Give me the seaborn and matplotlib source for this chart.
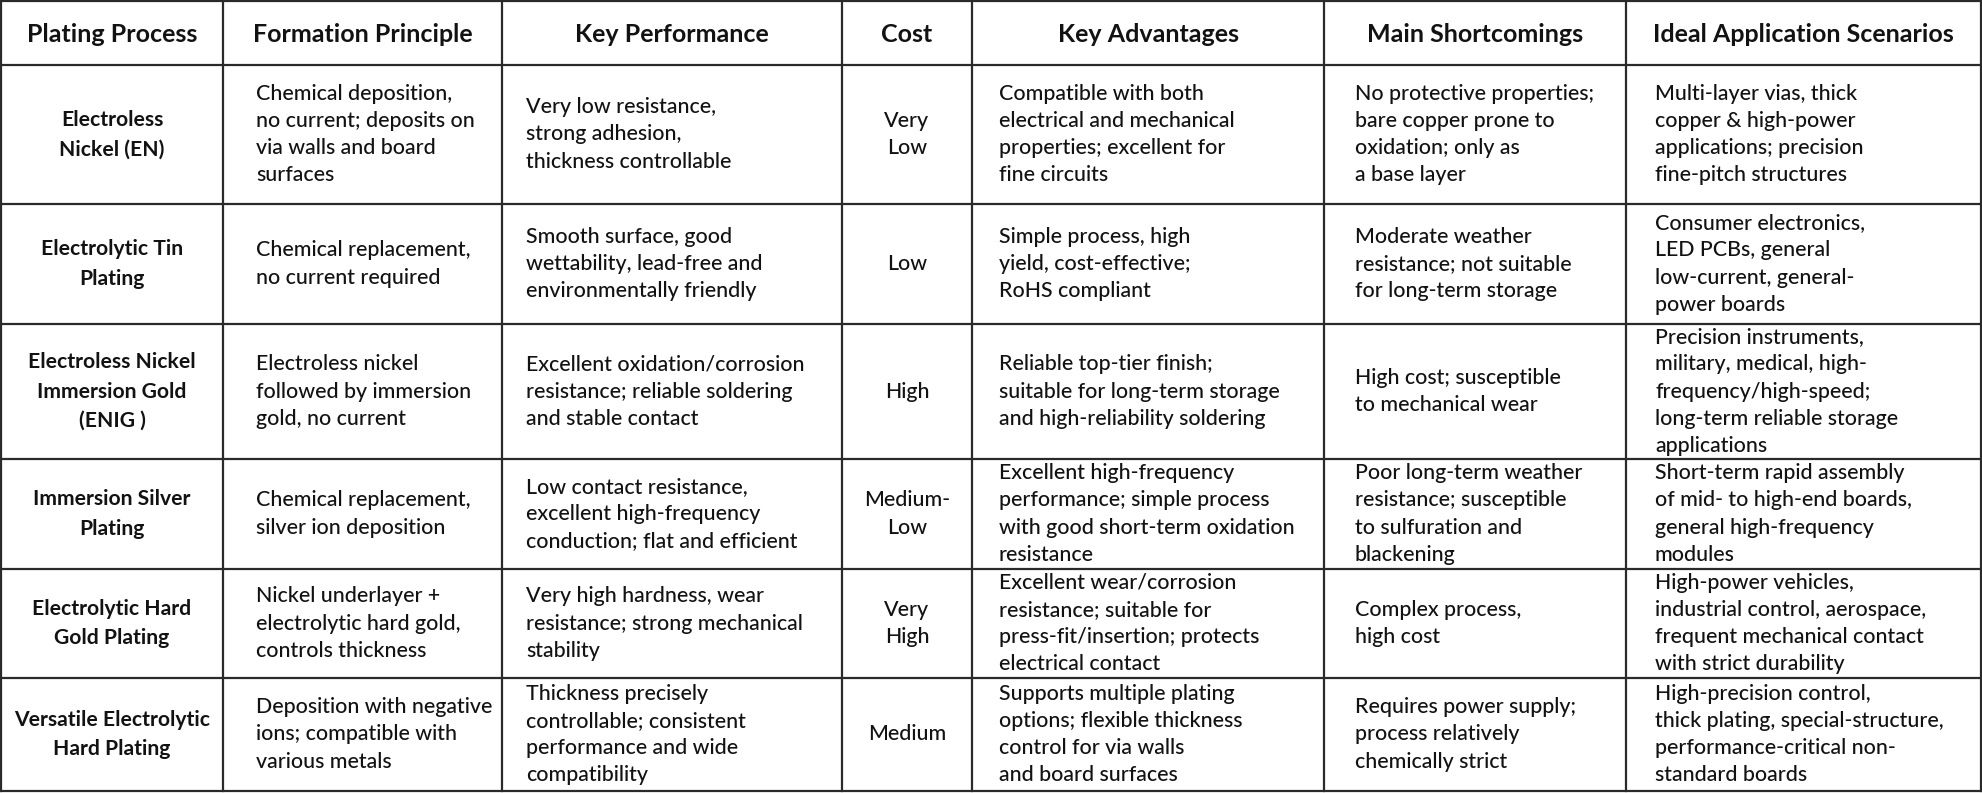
import matplotlib
matplotlib.use("Agg")
import matplotlib.pyplot as plt
import seaborn as sns

# ---------------- data ----------------
headers = ["Plating Process", "Formation Principle", "Key Performance", "Cost",
           "Key Advantages", "Main Shortcomings", "Ideal Application Scenarios"]

processes = [
    "Electroless\nNickel (EN)",
    "Electrolytic Tin\nPlating",
    "Electroless Nickel\nImmersion Gold\n(ENIG )",
    "Immersion Silver\nPlating",
    "Electrolytic Hard\nGold Plating",
    "Versatile Electrolytic\nHard Plating",
]
principles = [
    "Chemical deposition,\nno current; deposits on\nvia walls and board\nsurfaces",
    "Chemical replacement,\nno current required",
    "Electroless nickel\nfollowed by immersion\ngold, no current",
    "Chemical replacement,\nsilver ion deposition",
    "Nickel underlayer +\nelectrolytic hard gold,\ncontrols thickness",
    "Deposition with negative\nions; compatible with\nvarious metals",
]
performance = [
    "Very low resistance,\nstrong adhesion,\nthickness controllable",
    "Smooth surface, good\nwettability, lead-free and\nenvironmentally friendly",
    "Excellent oxidation/corrosion\nresistance; reliable soldering\nand stable contact",
    "Low contact resistance,\nexcellent high-frequency\nconduction; flat and efficient",
    "Very high hardness, wear\nresistance; strong mechanical\nstability",
    "Thickness precisely\ncontrollable; consistent\nperformance and wide\ncompatibility",
]
costs = ["Very\nLow", "Low", "High", "Medium-\nLow", "Very\nHigh", "Medium"]
advantages = [
    "Compatible with both\nelectrical and mechanical\nproperties; excellent for\nfine circuits",
    "Simple process, high\nyield, cost-effective;\nRoHS compliant",
    "Reliable top-tier finish;\nsuitable for long-term storage\nand high-reliability soldering",
    "Excellent high-frequency\nperformance; simple process\nwith good short-term oxidation\nresistance",
    "Excellent wear/corrosion\nresistance; suitable for\npress-fit/insertion; protects\nelectrical contact",
    "Supports multiple plating\noptions; flexible thickness\ncontrol for via walls\nand board surfaces",
]
shortcomings = [
    "No protective properties;\nbare copper prone to\noxidation; only as\na base layer",
    "Moderate weather\nresistance; not suitable\nfor long-term storage",
    "High cost; susceptible\nto mechanical wear",
    "Poor long-term weather\nresistance; susceptible\nto sulfuration and\nblackening",
    "Complex process,\nhigh cost",
    "Requires power supply;\nprocess relatively\nchemically strict",
]
applications = [
    "Multi-layer vias, thick\ncopper & high-power\napplications; precision\nfine-pitch structures",
    "Consumer electronics,\nLED PCBs, general\nlow-current, general-\npower boards",
    "Precision instruments,\nmilitary, medical, high-\nfrequency/high-speed;\nlong-term reliable storage\napplications",
    "Short-term rapid assembly\nof mid- to high-end boards,\ngeneral high-frequency\nmodules",
    "High-power vehicles,\nindustrial control, aerospace,\nfrequent mechanical contact\nwith strict durability",
    "High-precision control,\nthick plating, special-structure,\nperformance-critical non-\nstandard boards",
]

columns = [processes, principles, performance, costs, advantages, shortcomings, applications]

# ---------------- layout ----------------
col_edges = [1, 223, 502, 842, 972, 1324, 1626, 1981]
row_edges = [1, 65, 204, 324, 459, 569, 678, 791]
col_align = ["center", "left", "left", "center", "left", "left", "left"]
left_pad = [0, 33, 24, 0, 27, 31, 29]

sns.set_theme(style="white")
plt.rcParams["font.family"] = ["Lato", "DejaVu Sans"]

W, H = 1983, 793
fig = plt.figure(figsize=(W / 100, H / 100), dpi=100)
ax = fig.add_axes([0, 0, 1, 1])
ax.set_xlim(0, W)
ax.set_ylim(H, 0)
ax.axis("off")
fig.patch.set_facecolor("white")

line_color = "#2a2a2a"
text_color = "#121212"

for x in col_edges:
    ax.plot([x, x], [row_edges[0], row_edges[-1]], color=line_color, lw=1.6,
            solid_capstyle="projecting")
for y in row_edges:
    ax.plot([col_edges[0], col_edges[-1]], [y, y], color=line_color, lw=1.6,
            solid_capstyle="projecting")

# header
for j, h in enumerate(headers):
    cx = (col_edges[j] + col_edges[j + 1]) / 2
    cy = (row_edges[0] + row_edges[1]) / 2 + 1
    ax.text(cx, cy, h, ha="center", va="center", fontsize=18, fontweight="bold",
            color=text_color)

# body
for j, col in enumerate(columns):
    for i, txt in enumerate(col):
        y0, y1 = row_edges[i + 1], row_edges[i + 2]
        cy = (y0 + y1) / 2
        if col_align[j] == "center":
            cx = (col_edges[j] + col_edges[j + 1]) / 2
        else:
            cx = col_edges[j] + left_pad[j]
        if j == 0:
            ax.text(cx, cy, txt, ha="center", va="center", multialignment="center",
                    fontsize=15.2, fontweight="bold", color=text_color,
                    linespacing=1.6)
        else:
            ax.text(cx, cy, txt, ha=col_align[j], va="center",
                    multialignment=col_align[j], fontsize=15.4, fontweight=500,
                    color=text_color, linespacing=1.45)

fig.savefig("out.png", dpi=100, facecolor="white")
